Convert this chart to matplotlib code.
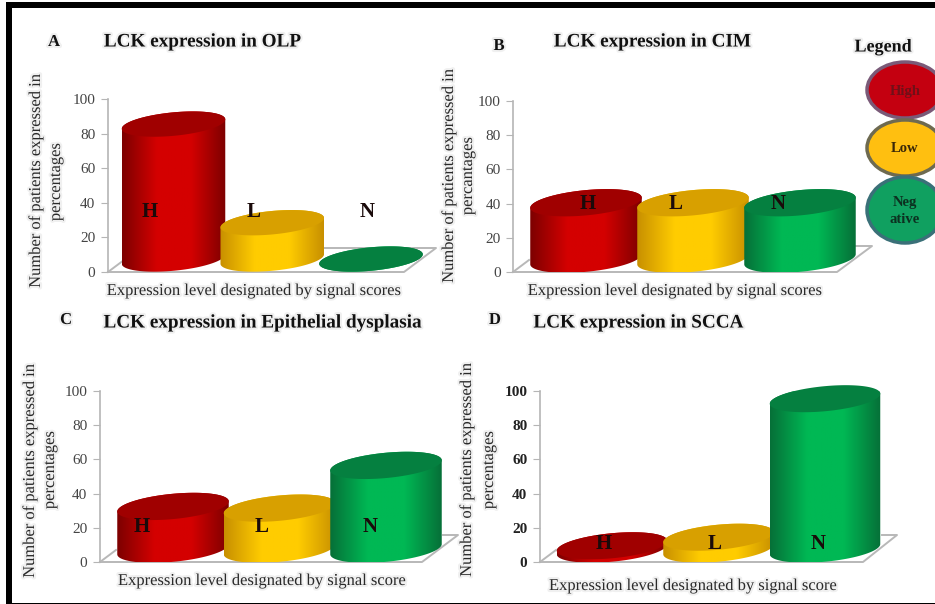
import numpy as np
import matplotlib
matplotlib.use('Agg')
import matplotlib.pyplot as plt
from matplotlib.colors import LinearSegmentedColormap
from matplotlib.patches import Ellipse, PathPatch, Rectangle
from matplotlib.path import Path
import matplotlib.patheffects as pe

plt.rcParams['font.family'] = ['Liberation Serif', 'DejaVu Serif']

W, H = 935, 604

# chart data
levels = ['H', 'L', 'N']
olp_values = [78, 21, 0]
cim_values = [33, 33, 33]
dysplasia_values = [25, 24, 49]
scca_values = [2, 7, 88]
y_ticks = [0, 20, 40, 60, 80, 100]

# colours for each level: side edge, side middle, top
side_edge = ['#7d0000', '#c89000', '#067038']
side_mid = ['#d40000', '#ffcc00', '#00b854']
top_col = ['#a00000', '#d8a000', '#058040']

BASE = 7.5  # base ellipse centre sits this far up the floor, in axis units


def cylinder(ax, i, value, sx, half_w, sy, tilt=5.5):
    # ellipse sizes are in pixels, sx and sy turn them into data units
    b = half_w * 0.225
    th = np.radians(tilt)
    t = np.linspace(0, 2 * np.pi, 120, endpoint=False)
    ex = (half_w * np.cos(t) * np.cos(th) - b * np.sin(t) * np.sin(th)) / sx
    ey = (half_w * np.cos(t) * np.sin(th) + b * np.sin(t) * np.cos(th)) / sy
    top = BASE + value
    left = int(np.argmin(ex))
    right = int(np.argmax(ex))
    # upper half runs right -> left, lower half left -> right (t goes anticlockwise)
    idx_up = np.arange(right, right + ((left - right) % 120) + 1) % 120
    idx_low = np.arange(left, left + ((right - left) % 120) + 1) % 120
    xs = np.r_[i + ex[idx_low], i + ex[idx_up]]
    ys = np.r_[BASE + ey[idx_low], top + ey[idx_up]]
    verts = np.column_stack([xs, ys])
    verts = np.vstack([verts, verts[0]])
    clip = PathPatch(Path(verts, closed=False), transform=ax.transData, fc='none', ec='none', clip_on=False)
    ax.add_patch(clip)
    cmap = LinearSegmentedColormap.from_list('c', [side_edge[i], side_mid[i], side_mid[i], side_edge[i]])
    grad = np.linspace(0, 1, 128).reshape(1, -1)
    im = ax.imshow(grad, cmap=cmap, aspect='auto', zorder=3 + i,
                   extent=(i + ex.min(), i + ex.max(), ys.min(), ys.max()))
    im.set_clip_path(clip)
    ax.fill(i + ex, top + ey, color=top_col[i], lw=0, zorder=3 + i, clip_on=False)


def panel(values, x_axis, x_floor, x_back, back_start, y0, y100, y_back, centres, width, bold_ticks=False):
    sx = (centres[2] - centres[0]) / 2.0
    sy = (y0 - y100) / 100.0
    ax = fig.add_axes([x_axis / W, 1 - y0 / H, (x_back - x_axis) / W, (y0 - y100) / H])
    ax.patch.set_alpha(0)
    for sp in ['top', 'right', 'bottom']:
        ax.spines[sp].set_visible(False)
    ax.spines['left'].set_color('#b5b5b5')
    ax.spines['left'].set_linewidth(1.2)
    ax.set_xticks([])
    ax.set_yticks(y_ticks)
    ax.tick_params(axis='y', length=5, color='#b5b5b5', labelsize=11, labelcolor='#444444', pad=4)
    if bold_ticks:
        for lb in ax.get_yticklabels():
            lb.set_fontweight('bold')
            lb.set_color('#222222')
    to_x = lambda px: (px - centres[0]) / sx
    d = (y0 - y_back) / sy
    # floor: front edge, right edge, the visible piece of the back edge, left stub
    ax.plot([to_x(x_axis), to_x(x_floor), to_x(x_back), to_x(back_start)], [0, 0, d, d],
            color='#b8b8b8', lw=1.4, zorder=1, clip_on=False)
    ax.plot([to_x(x_axis), to_x(x_axis + 16)], [0, 12 / sy], color='#b8b8b8', lw=1.4, zorder=1, clip_on=False)
    for i, v in enumerate(values):
        cylinder(ax, i, v, sx, width / 2.0, sy)
    ax.set_xlim(to_x(x_axis), to_x(x_back))
    ax.set_ylim(0, 100)
    return ax


fig = plt.figure(figsize=(W / 100, H / 100), dpi=100, facecolor='white')

panel(olp_values, 108, 404, 436, 324, 272, 99, 248, [173.5, 272, 371], 104)
panel(cim_values, 513, 837, 872, 856, 272, 101, 246, [586, 693, 800], 112)
panel(dysplasia_values, 100, 422, 458, 443, 562, 391, 535, [173, 277, 386], 112)
panel(scca_values, 540, 863, 897, 882, 562, 391, 535, [612, 717, 825], 111, bold_ticks=True)

# overlay in picture pixels for frame, text and legend
ov = fig.add_axes([0, 0, 1, 1], zorder=20)
ov.set_xlim(0, W)
ov.set_ylim(H, 0)
ov.axis('off')
ov.patch.set_alpha(0)

halo = [pe.withStroke(linewidth=3, foreground='#f0f0f0')]


def label(x, y, s, size=11.9, weight='normal', rot=0, color='#2a2a2a'):
    ov.text(x, y, s, fontsize=size, fontweight=weight, rotation=rot, color=color,
            ha='center', va='center', path_effects=halo)


# frame
ov.add_patch(Rectangle((6, 2), 6, H, fc='black', ec='none'))
ov.add_patch(Rectangle((6, 2), W, 6, fc='black', ec='none'))
ov.add_patch(Rectangle((6, 602.5), W, 1.5, fc='black', ec='none'))

# panel letters and titles
for x, y, t in [(54, 42, 'A'), (499, 46, 'B'), (66, 320, 'C'), (495, 320, 'D')]:
    label(x, y, t, size=12, weight='bold', color='#111111')
for x, y, t in [(202, 42, 'LCK expression in OLP'), (652, 42, 'LCK expression in CIM'),
                (262, 323, 'LCK expression in Epithelial dysplasia'), (638, 323, 'LCK expression in SCCA')]:
    label(x, y, t, size=13.8, weight='bold', color='#111111')

# axis labels
for x, y, t in [(36, 181, 'Number of patients expressed in'), (56, 182, 'percentages'),
                (449, 176, 'Number of patients expressed in'), (468, 176, 'percantages'),
                (30, 471, 'Number of patients expressed in'), (50, 470, 'percentages'),
                (467, 470, 'Number of patients expressed in'), (489, 470, 'percentages')]:
    label(x, y, t, rot=90)
for x, y, t in [(254, 291, 'Expression level designated by signal scores'),
                (675, 291, 'Expression level designated by signal scores'),
                (262, 581, 'Expression level designated by signal score'),
                (693, 586, 'Expression level designated by signal score')]:
    label(x, y, t)

# letters on the bars
bar_letters = [(150, 212), (254, 212), (367, 212),
               (588, 204), (676, 204), (778, 204),
               (142, 527), (262, 527), (370, 527),
               (604, 544), (715, 544), (818, 544)]
for n, (x, y) in enumerate(bar_letters):
    ov.text(x, y, levels[n % 3], fontsize=15, fontweight='bold', color='#1a0a0a',
            ha='center', va='center', zorder=10)

# legend
label(883, 47, 'Legend', size=13, weight='bold', color='#111111')
ov.add_patch(Ellipse((905, 90), 76, 56, fc='#c40010', ec='#7a5a78', lw=2.5, zorder=4))
ov.add_patch(Ellipse((905, 148), 76, 56, fc='#ffbf10', ec='#6e6a50', lw=2.5, zorder=4))
ov.add_patch(Ellipse((905, 210), 76, 66, fc='#10a060', ec='#3a7078', lw=2.5, zorder=4))
ov.text(905, 91, 'High', fontsize=10.5, fontweight='bold', color='#701018', ha='center', va='center', zorder=5)
ov.text(905, 149, 'Low', fontsize=10.5, fontweight='bold', color='#3a2808', ha='center', va='center', zorder=5)
ov.text(905, 211, 'Neg\native', fontsize=10.5, fontweight='bold', color='#0c3020', ha='center', va='center',
        linespacing=1.35, zorder=5)

fig.savefig('out.png', dpi=100)
